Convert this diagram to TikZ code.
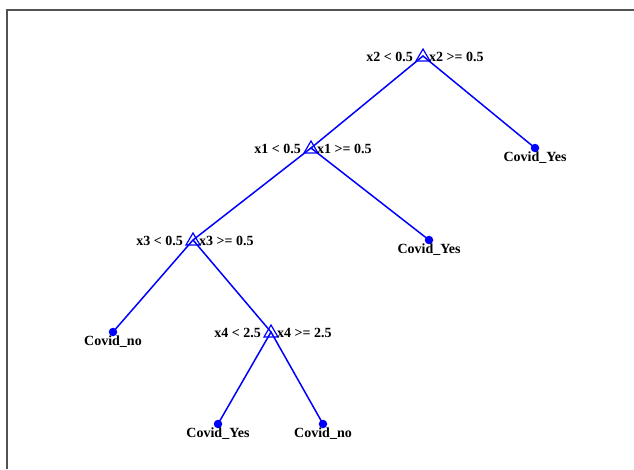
\documentclass[tikz,border=0pt]{standalone}
\usepackage{fontspec}
\setmainfont{Liberation Serif}
\begin{document}
\begin{tikzpicture}[x=1pt,y=-1pt,
  edge/.style={draw=blue,line width=1.5pt},
  splitmark/.style={draw=blue,line width=1.2pt,line join=miter},
  leafdot/.style={circle,fill=blue,inner sep=0pt,minimum size=8.5pt},
  lbl/.style={font=\fontsize{14}{16}\selectfont\bfseries,inner sep=0pt},
  frameline/.style={draw=black!68,line width=2pt}
]
\useasboundingbox (0,0) rectangle (634,469);
% frame
\coordinate (fa) at (6.5,469);
\coordinate (fb) at (6.5,9.5);
\coordinate (fc) at (634,9.5);
\draw[frameline] (fa) -- (fb) -- (fc);
% decision points
\coordinate (r) at (423,56);
\coordinate (a) at (311,148);
\coordinate (b) at (193,240);
\coordinate (c) at (271,332);
% leaves
\coordinate (l1) at (535,148);
\coordinate (l2) at (429,240);
\coordinate (l3) at (113,332);
\coordinate (l4) at (218,424);
\coordinate (l5) at (323,424);
% edges
\draw[edge] (l3) -- (b) -- (a) -- (r) -- (l1);
\draw[edge] (a) -- (l2);
\draw[edge] (b) -- (c) -- (l4);
\draw[edge] (c) -- (l5);
% triangles
\foreach \n in {r,a,b,c}{
  \draw[splitmark] ([shift={(0,-7)}]\n) -- ([shift={(7,5)}]\n) -- ([shift={(-7,5)}]\n) -- cycle;
}
% leaf dots
\foreach \n in {l1,l2,l3,l4,l5}{
  \node[leafdot] at (\n) {};
}
% split labels
\node[lbl,anchor=base east] (rl) at ([shift={(-10,5.5)}]r) {x2 < 0.5};
\node[lbl,anchor=base west] (rr) at ([shift={(6,5.5)}]r) {x2 >= 0.5};
\node[lbl,anchor=base east] (al) at ([shift={(-10,5.5)}]a) {x1 < 0.5};
\node[lbl,anchor=base west] (ar) at ([shift={(6,5.5)}]a) {x1 >= 0.5};
\node[lbl,anchor=base east] (bl) at ([shift={(-10,5.5)}]b) {x3 < 0.5};
\node[lbl,anchor=base west] (br) at ([shift={(6,5.5)}]b) {x3 >= 0.5};
\node[lbl,anchor=base east] (cl) at ([shift={(-10,5.5)}]c) {x4 < 2.5};
\node[lbl,anchor=base west] (cr) at ([shift={(6,5.5)}]c) {x4 >= 2.5};
% leaf labels
\node[lbl,anchor=base] (t1) at ([shift={(0,13.5)}]l1) {Covid\_Yes};
\node[lbl,anchor=base] (t2) at ([shift={(0,13.5)}]l2) {Covid\_Yes};
\node[lbl,anchor=base] (t3) at ([shift={(0,13.5)}]l3) {Covid\_no};
\node[lbl,anchor=base] (t4) at ([shift={(0,13.5)}]l4) {Covid\_Yes};
\node[lbl,anchor=base] (t5) at ([shift={(0,13.5)}]l5) {Covid\_no};
\end{tikzpicture}
\end{document}
